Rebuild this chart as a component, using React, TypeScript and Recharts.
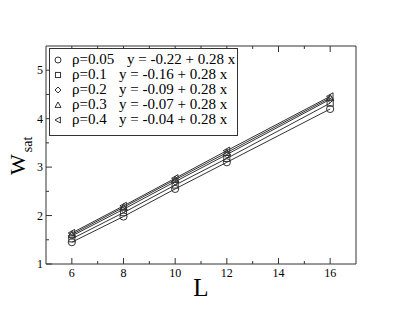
import React from 'react';
import { ComposedChart, Line, XAxis, YAxis } from 'recharts';

const lengths = [6, 8, 10, 12, 16];
const rho005 = [1.45, 1.98, 2.55, 3.10, 4.20];
const rho01 = [1.52, 2.06, 2.63, 3.18, 4.32];
const rho02 = [1.58, 2.13, 2.70, 3.26, 4.40];
const rho03 = [1.61, 2.17, 2.74, 3.30, 4.43];
const rho04 = [1.64, 2.20, 2.77, 3.34, 4.46];

const seriesNames = ['ρ=0.05', 'ρ=0.1', 'ρ=0.2', 'ρ=0.3', 'ρ=0.4'];
const fitLabels = [
  'y = -0.22 + 0.28 x',
  'y = -0.16 + 0.28 x',
  'y = -0.09 + 0.28 x',
  'y = -0.07 + 0.28 x',
  'y = -0.04 + 0.28 x',
];
const markers = ['circle', 'square', 'diamond', 'triangle', 'left'];
const keys = ['r005', 'r01', 'r02', 'r03', 'r04'];

const xTicks = [6, 7, 8, 9, 10, 11, 12, 13, 14, 15, 16];
const xMajor = [6, 8, 10, 12, 14, 16];
const yTicks = [1, 1.5, 2, 2.5, 3, 3.5, 4, 4.5, 5];
const yMajor = [1, 2, 3, 4, 5];

const data = lengths.map((L, i) => ({
  L,
  r005: rho005[i],
  r01: rho01[i],
  r02: rho02[i],
  r03: rho03[i],
  r04: rho04[i],
}));

const FONT = '"Liberation Serif", "DejaVu Serif", serif';
const STROKE = '#333';

function Marker({ type, cx, cy, r }: { type: string; cx: number; cy: number; r: number }) {
  const common = { fill: 'none', stroke: STROKE, strokeWidth: 1 };
  if (type === 'circle') return <circle cx={cx} cy={cy} r={r} {...common} />;
  if (type === 'square')
    return <rect x={cx - r * 0.85} y={cy - r * 0.85} width={r * 1.7} height={r * 1.7} {...common} />;
  if (type === 'diamond')
    return (
      <polygon
        points={`${cx},${cy - r} ${cx + r},${cy} ${cx},${cy + r} ${cx - r},${cy}`}
        {...common}
      />
    );
  if (type === 'triangle')
    return (
      <polygon
        points={`${cx},${cy - r} ${cx + r},${cy + r * 0.8} ${cx - r},${cy + r * 0.8}`}
        {...common}
      />
    );
  return (
    <polygon
      points={`${cx - r},${cy} ${cx + r * 0.8},${cy - r} ${cx + r * 0.8},${cy + r}`}
      {...common}
    />
  );
}

const makeDot = (type: string) => (props: any) => {
  const { cx, cy, key } = props;
  if (cx == null || cy == null) return <g key={key} />;
  return (
    <g key={key}>
      <Marker type={type} cx={cx} cy={cy} r={3.6} />
    </g>
  );
};

const BottomTick = (props: any) => {
  const { x, y, payload } = props;
  const major = xMajor.includes(payload.value);
  return (
    <g>
      <line x1={x} x2={x} y1={y} y2={y - (major ? 6 : 3)} stroke="#333" />
      {major && (
        <text x={x} y={y + 13} textAnchor="middle" fontSize={12} fontFamily={FONT} fill="#000">
          {payload.value}
        </text>
      )}
    </g>
  );
};

const TopTick = (props: any) => {
  const { x, y, payload } = props;
  const major = xMajor.includes(payload.value);
  return <line x1={x} x2={x} y1={y} y2={y + (major ? 6 : 3)} stroke="#333" />;
};

const LeftTick = (props: any) => {
  const { x, y, payload } = props;
  const major = yMajor.includes(payload.value);
  return (
    <g>
      <line x1={x} x2={x + (major ? 6 : 3)} y1={y} y2={y} stroke="#333" />
      {major && (
        <text x={x - 3} y={y + 4} textAnchor="end" fontSize={12} fontFamily={FONT} fill="#000">
          {payload.value}
        </text>
      )}
    </g>
  );
};

const RightTick = (props: any) => {
  const { x, y, payload } = props;
  const major = yMajor.includes(payload.value);
  return <line x1={x} x2={x - (major ? 6 : 3)} y1={y} y2={y} stroke="#333" />;
};

const LegendBox = () => (
  <div
    style={{
      position: 'absolute',
      left: 49,
      top: 48,
      border: '1px solid #333',
      background: '#fff',
      width: 189,
      height: 88,
      boxSizing: 'border-box',
      fontFamily: FONT,
      fontSize: 15,
      paddingTop: 3,
    }}
  >
    {seriesNames.map((name, i) => (
      <div key={name} style={{ position: 'relative', height: 15, lineHeight: '15px' }}>
        <svg width={12} height={12} style={{ position: 'absolute', left: 2, top: 2 }}>
          <Marker type={markers[i]} cx={6} cy={6} r={3} />
        </svg>
        <span style={{ position: 'absolute', left: 22, top: 0, whiteSpace: 'nowrap' }}>{name}</span>
        <span style={{ position: 'absolute', left: i === 0 ? 77 : 69, top: 0, whiteSpace: 'nowrap' }}>
          {fitLabels[i]}
        </span>
      </div>
    ))}
  </div>
);

export default function App() {
  return (
    <div style={{ position: 'absolute', left: 0, top: 0, width: 403, height: 312, background: '#fff' }}>
      <ComposedChart width={403} height={312} data={data} margin={{ top: 0, right: 0, bottom: 0, left: 0 }}>
        <XAxis
          xAxisId="b"
          type="number"
          dataKey="L"
          domain={[5, 17]}
          ticks={xTicks}
          interval={0}
          tickSize={0}
          tickMargin={0}
          height={48}
          axisLine={{ stroke: '#333' }}
          tick={BottomTick}
          label={{
            content: () => (
              <text x={201} y={296} textAnchor="middle" fontSize={25} fontFamily={FONT} fill="#000">
                L
              </text>
            ),
          }}
        />
        <XAxis
          xAxisId="t"
          orientation="top"
          type="number"
          dataKey="L"
          domain={[5, 17]}
          ticks={xTicks}
          interval={0}
          tickSize={0}
          tickMargin={0}
          height={46}
          axisLine={{ stroke: '#333' }}
          tick={TopTick}
        />
        <YAxis
          yAxisId="l"
          type="number"
          domain={[1, 5.5]}
          ticks={yTicks}
          interval={0}
          tickSize={0}
          tickMargin={0}
          width={46}
          axisLine={{ stroke: '#333' }}
          tick={LeftTick}
          label={{
            content: () => (
              <text transform="rotate(-90, 25, 175)" x={25} y={175} fontSize={22} fontFamily={FONT} fill="#000">
                W
                <tspan dx={2} dy={7} fontSize={14}>
                  sat
                </tspan>
              </text>
            ),
          }}
        />
        <YAxis
          yAxisId="r"
          orientation="right"
          type="number"
          domain={[1, 5.5]}
          ticks={yTicks}
          interval={0}
          tickSize={0}
          tickMargin={0}
          width={47}
          axisLine={{ stroke: '#333' }}
          tick={RightTick}
        />
        {keys.map((k, i) => (
          <Line
            key={k}
            xAxisId="b"
            yAxisId="l"
            type="linear"
            dataKey={k}
            name={seriesNames[i]}
            stroke={STROKE}
            strokeWidth={1}
            dot={makeDot(markers[i])}
            activeDot={false}
            isAnimationActive={false}
          />
        ))}
      </ComposedChart>
      <LegendBox />
    </div>
  );
}
